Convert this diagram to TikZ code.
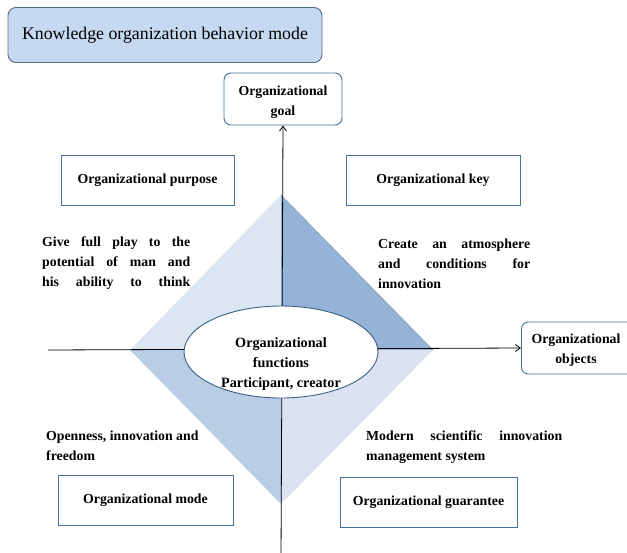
\documentclass[tikz,border=0pt]{standalone}
\usepackage{fontspec}
\setmainfont{Liberation Serif}
\usetikzlibrary{arrows.meta}
\definecolor{titlefill}{RGB}{197,217,241}
\definecolor{titleline}{RGB}{84,104,134}
\definecolor{boxline}{RGB}{65,113,156}
\definecolor{qtl}{RGB}{220,230,242}
\definecolor{qtr}{RGB}{149,179,215}
\definecolor{qbl}{RGB}{185,205,229}
\definecolor{qbr}{RGB}{221,226,241}
\newcommand{\jline}[2]{\makebox[#1][s]{#2}}
\begin{document}
\begin{tikzpicture}[x=1pt,y=-1pt,
  lbl/.style={font=\bfseries\fontsize{13.8}{20}\selectfont},
  sqbox/.style={draw=boxline,line width=0.9pt,fill=white,minimum width=#1,minimum height=50pt,inner sep=0pt,lbl},
  rbox/.style={draw=boxline,line width=0.9pt,fill=white,rounded corners=7pt,align=center,inner sep=0pt,lbl},
  note/.style={lbl,align=left,inner sep=0pt,anchor=north west},
  axis/.style={draw=black,line width=0.8pt,-{Straight Barb[length=5pt,width=7pt]}}
]
\useasboundingbox (0,0) rectangle (627,552);
\clip (0,0) rectangle (627,552);

% title banner
\node[draw=titleline,line width=0.9pt,fill=titlefill,rounded corners=8pt,
      minimum width=314pt,minimum height=55pt,inner sep=0pt,
      font=\fontsize{17.8}{20}\selectfont] (title) at (165,35)
      {Knowledge organization behavior mode};

% four quadrants of the diamond
\coordinate (c) at (281,350);
\coordinate (dt) at (281,195);
\coordinate (dr) at (433,350);
\coordinate (db) at (281,504);
\coordinate (dl) at (130,350);
\fill[qtl] (c) -- (dl) -- (dt) -- cycle;
\fill[qtr] (c) -- (dt) -- (dr) -- cycle;
\draw[qtr!80!black,line width=0.4pt] (dt) -- (dr);
\fill[qbl] (c) -- (dl) -- (db) -- cycle;
\fill[qbr] (c) -- (db) -- (dr) -- cycle;

% end boxes of the axes
\node[rbox,minimum width=118pt,minimum height=52pt] (goal) at (283,99) {};
\node[lbl,align=center,inner sep=0pt] (goaltxt) at (283,102) {Organizational\\goal};
\node[rbox,minimum width=116pt,minimum height=52pt,anchor=west] (obj) at (521,348) {};
\node[lbl,align=center,inner sep=0pt] (objtxt) at (576,350)
      {Organizational\\objects};

% axes
\coordinate (vbot) at (281,560);
\coordinate (hleft) at (48,350);
\draw[axis] (vbot) -- (goal.south);
\draw[axis] (hleft) -- (obj.west);

% centre ellipse
\draw[draw=boxline!85!black,line width=0.9pt,fill=white] (281,352) ellipse [x radius=97pt,y radius=46pt];
\node[lbl,align=center,inner sep=0pt,font=\bfseries\fontsize{14.2}{20}\selectfont] (func) at (281,364)
      {Organizational\\functions\\Participant, creator};

% corner boxes
\node[sqbox=173pt] (purpose) at (147.5,180) {Organizational purpose};
\node[sqbox=174pt] (key) at (433,180) {Organizational key};
\node[sqbox=175pt] (mode) at (145.5,500) {Organizational mode};
\node[sqbox=177pt] (guar) at (428.5,502) {Organizational guarantee};

% quadrant notes
\node[note] (n1) at (42,237)
  {\jline{148pt}{Give full play to the}\\\jline{148pt}{potential of man and}\\\jline{148pt}{his ability to think}};
\node[note] (n2) at (378,239)
  {\jline{152pt}{Create an atmosphere}\\\jline{152pt}{and conditions for}\\innovation};
\node[note] (n3) at (46,431)
  {Openness, innovation and\\freedom};
\node[note] (n4) at (366,431)
  {\jline{196pt}{Modern scientific innovation}\\management system};
\end{tikzpicture}
\end{document}
